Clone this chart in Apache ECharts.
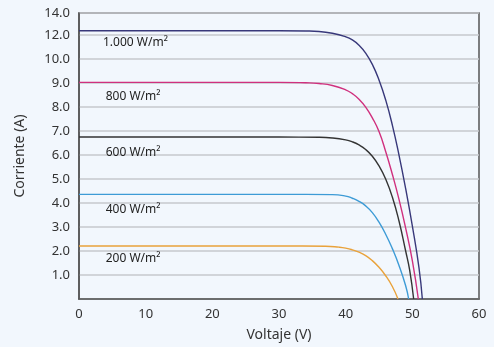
<!DOCTYPE html>
<html>
<head>
<meta charset="utf-8">
<script src="https://cdn.jsdelivr.net/npm/echarts@6/dist/echarts.min.js"></script>
<style>
html,body{margin:0;padding:0;background:#f2f7fd;}
#c{width:494px;height:347px;}
</style>
</head>
<body>
<div id="c"></div>
<script>
// Irradiance series (W/m²) — voltage (V) and current (A)
const seriesNames = ['1.000 W/m²', '800 W/m²', '600 W/m²', '400 W/m²', '200 W/m²'];
const v1000 = [0, 30, 34, 36, 38, 40, 41, 42, 43, 44, 45, 46, 47, 48, 49, 50, 51, 51.5];
const i1000 = [12.39, 12.39, 12.37, 12.33, 12.17, 11.86, 11.6, 11.16, 10.5, 9.78, 9.13, 8.3, 7.25, 6.0, 4.6, 3.05, 1.3, 0];
const v800 = [0, 30, 34, 36, 38, 40, 41, 42, 43, 44, 45, 46, 47, 48, 49, 50, 50.9];
const i800 = [9.03, 9.03, 9.01, 8.98, 8.9, 8.72, 8.56, 8.33, 8.0, 7.55, 6.98, 6.15, 5.2, 4.15, 2.95, 1.6, 0];
const v600 = [0, 30, 36, 38, 40, 41, 42, 43, 44, 45, 46, 47, 48, 49, 49.6, 50.2];
const i600 = [6.75, 6.75, 6.74, 6.71, 6.63, 6.55, 6.42, 6.23, 5.95, 5.55, 5.0, 4.25, 3.25, 2.0, 1.2, 0];
const v400 = [0, 30, 38, 40, 41, 42, 43, 44, 45, 46, 47, 48, 49, 49.45];
const i400 = [4.36, 4.36, 4.35, 4.29, 4.2, 4.07, 3.88, 3.6, 3.2, 2.7, 2.1, 1.4, 0.55, 0];
const v200 = [0, 30, 37, 39, 40, 41, 42, 43, 44, 45, 46, 47, 47.85];
const i200 = [2.21, 2.21, 2.2, 2.16, 2.12, 2.05, 1.95, 1.81, 1.6, 1.32, 0.97, 0.52, 0];
// Label anchor (V, A) for each irradiance text
const labelV = [3.6, 4.0, 4.0, 4.0, 4.0];
const labelI = [11.36, 8.42, 6.12, 3.72, 1.68];
const colors = ['#38387a', '#d0307e', '#333333', '#3d9bd6', '#e9a23b'];
// Y axis tick labels (non-uniform scale as printed)
const yTickLabels = ['1.0','2.0','3.0','4.0','5.0','6.0','7.0','8.0','9.0','10.0','12.0','14.0'];
const yTickReal = [1,2,3,4,5,6,7,8,9,10,12,14];
const xTicks = [0,10,20,30,40,50,60];

// piecewise axis mapping: real current -> display position
const realBreaks = [0, 10, 12, 14];
const dispBreaks = [0, 10, 11, 11.92];
function toDisp(a){
  for (let k = 0; k < realBreaks.length - 1; k++){
    if (a <= realBreaks[k+1] || k === realBreaks.length - 2){
      const t = (a - realBreaks[k]) / (realBreaks[k+1] - realBreaks[k]);
      return dispBreaks[k] + t * (dispBreaks[k+1] - dispBreaks[k]);
    }
  }
}
const dispTicks = yTickReal.map(toDisp);
function labelFor(val){
  for (let k = 0; k < dispTicks.length; k++){
    if (Math.abs(dispTicks[k] - val) < 0.02) return yTickLabels[k];
  }
  return '';
}

const vs = [v1000, v800, v600, v400, v200];
const is = [i1000, i800, i600, i400, i200];
const FONT = 'Noto Sans';
const series = vs.map((v, k) => ({
  type: 'line',
  name: seriesNames[k],
  data: v.map((x, j) => [x, toDisp(is[k][j])]),
  smooth: 0.5,
  showSymbol: false,
  symbol: 'none',
  lineStyle: {color: colors[k], width: 1.4},
  z: 5,
  markPoint: {
    symbol: 'circle', symbolSize: 0,
    data: [{coord: [labelV[k], toDisp(labelI[k])], value: seriesNames[k]}],
    label: {show: true, position: 'right', distance: 0, formatter: seriesNames[k],
            color: '#222', fontSize: 12, fontFamily: FONT}
  }
}));

const chart = echarts.init(document.getElementById('c'), null, {renderer: 'canvas'});
chart.setOption({
  backgroundColor: '#f2f7fd',
  animation: false,
  grid: {left: 79, right: 15, top: 13, bottom: 48, show: true, borderColor: '#555', borderWidth: 1.5, backgroundColor: 'transparent'},
  xAxis: {
    type: 'value', min: 0, max: 60, interval: 10,
    name: 'Voltaje (V)', nameLocation: 'middle', nameGap: 29,
    nameTextStyle: {color: '#333', fontSize: 14, fontFamily: FONT},
    axisLine: {show: true, lineStyle: {color: '#555', width: 1.5}},
    axisTick: {show: false},
    splitLine: {show: false},
    axisLabel: {color: '#333', fontSize: 13, fontFamily: FONT, margin: 9,
      formatter: v => xTicks.includes(v) ? String(v) : ''}
  },
  yAxis: {
    type: 'value', min: 0, max: 11.92, interval: 1,
    name: 'Corriente (A)', nameLocation: 'middle', nameGap: 52,
    nameTextStyle: {color: '#333', fontSize: 14, fontFamily: FONT},
    axisLine: {show: true, lineStyle: {color: '#555', width: 1.5}},
    axisTick: {show: false},
    splitLine: {show: true, lineStyle: {color: '#c6c8cc', width: 1.5}},
    axisLabel: {color: '#333', fontSize: 13, fontFamily: FONT, margin: 9,
      showMaxLabel: true, formatter: v => labelFor(v)}
  },
  graphic: [{
    type: 'text', left: 370, top: -21,
    style: {text: '(25 °C)', fill: '#1ea7e4', font: 'bold 22px "Noto Sans"'}
  }],
  series: series
});
</script>
</body>
</html>
